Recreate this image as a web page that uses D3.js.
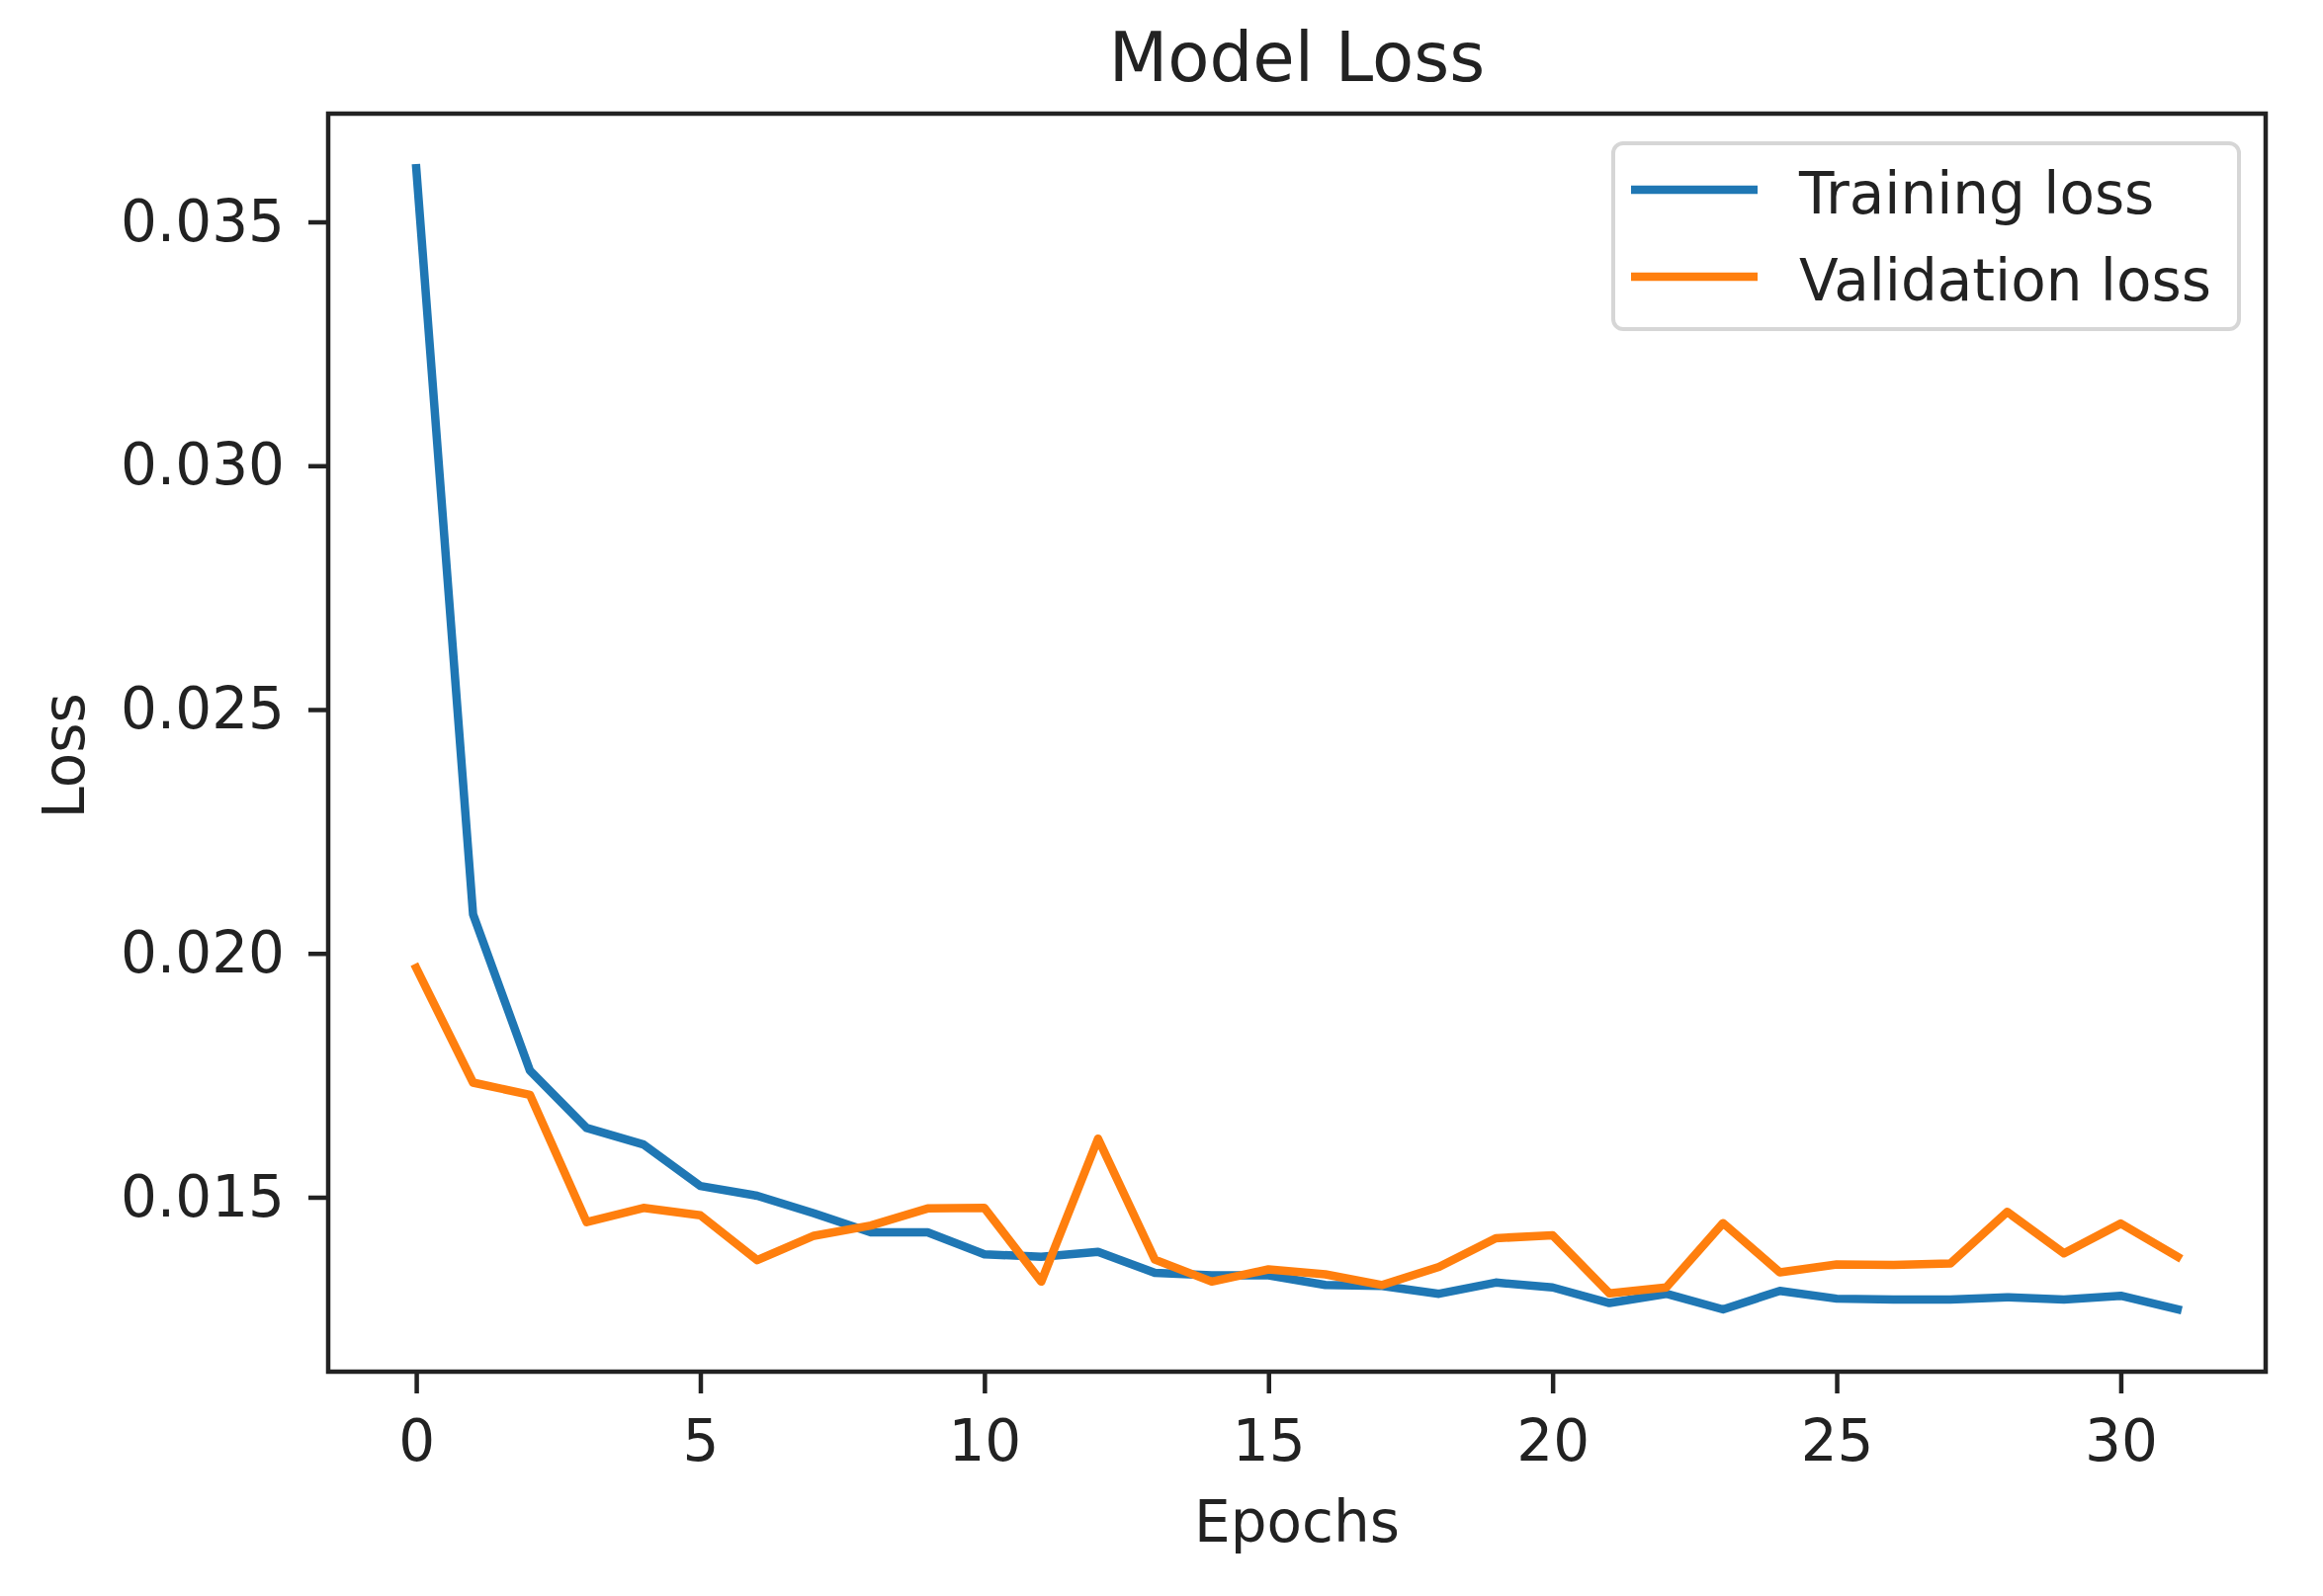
<!DOCTYPE html>
<html>
<head>
<meta charset="utf-8">
<script src="https://cdn.jsdelivr.net/npm/d3@7"></script>
<style>
    body { margin: 0; background: #fff; }
    text { font-family: "DejaVu Sans", sans-serif; fill: #222; }
</style>
</head>
<body>
<div id="chart"></div>
<script>
"use strict";

// values
var epochs = d3.range(0, 32);
var training_loss = [
    0.0361, 0.0208, 0.0176, 0.01642, 0.01608, 0.01523, 0.01503, 0.01467,
    0.01428, 0.01428, 0.01383, 0.01378, 0.01388, 0.01345, 0.0134, 0.0134,
    0.0132, 0.01318, 0.01302, 0.01325, 0.01315, 0.01283, 0.01302, 0.0127,
    0.01308, 0.01292, 0.0129, 0.0129, 0.01295, 0.0129, 0.01298, 0.0127
];
var validation_loss = [
    0.0197, 0.01735, 0.0171, 0.01449, 0.01478, 0.01463, 0.01371, 0.01421,
    0.01442, 0.01477, 0.01478, 0.01327, 0.0162, 0.01372, 0.01327, 0.01352,
    0.01342, 0.0132, 0.01357, 0.01416, 0.01422, 0.01303, 0.01315, 0.01447,
    0.01346, 0.01362, 0.01361, 0.01364, 0.0147, 0.01385, 0.01446, 0.01378
];
var x_ticks = [0, 5, 10, 15, 20, 25, 30];
var y_ticks = [0.015, 0.020, 0.025, 0.030, 0.035];
var series_names = ["Training loss", "Validation loss"];
var series_colors = ["#1f77b4", "#ff7f0e"];

var width = 2350;
var height = 1615;
var plot = { left: 332, right: 2292, top: 115, bottom: 1388 };

var svg = d3.select("#chart")
    .append("svg")
    .attr("width", width)
    .attr("height", height);

var x = d3.scaleLinear()
    .domain([-1.55, 32.55])
    .range([plot.left, plot.right]);

var y = d3.scaleLinear()
    .domain([0.011423, 0.037219])
    .range([plot.bottom, plot.top]);

// axes
var x_axis = svg.append("g")
    .attr("transform", "translate(0," + plot.bottom + ")")
    .call(d3.axisBottom(x)
        .tickValues(x_ticks)
        .tickFormat(d3.format("d"))
        .tickSize(22)
        .tickSizeOuter(0)
        .tickPadding(27));

var y_axis = svg.append("g")
    .attr("transform", "translate(" + plot.left + ",0)")
    .call(d3.axisLeft(y)
        .tickValues(y_ticks)
        .tickFormat(d3.format(".3f"))
        .tickSize(20)
        .tickSizeOuter(0)
        .tickPadding(24));

svg.selectAll(".domain").remove();
svg.selectAll(".tick line")
    .attr("stroke", "#222")
    .attr("stroke-width", 4.5);
svg.selectAll(".tick text")
    .style("font-size", "58px")
    .attr("fill", "#222");

// lines
var line = function(values) {
    return d3.line()
        .x(function(d, i) { return x(epochs[i]); })
        .y(function(d) { return y(d); })(values);
};

[training_loss, validation_loss].forEach(function(values, i) {
    svg.append("path")
        .attr("d", line(values))
        .attr("fill", "none")
        .attr("stroke", series_colors[i])
        .attr("stroke-width", 8.5)
        .attr("stroke-linejoin", "round")
        .attr("stroke-linecap", "square");
});

// frame
svg.append("rect")
    .attr("x", plot.left)
    .attr("y", plot.top)
    .attr("width", plot.right - plot.left)
    .attr("height", plot.bottom - plot.top)
    .attr("fill", "none")
    .attr("stroke", "#222")
    .attr("stroke-width", 4.5);

// titles
svg.append("text")
    .attr("x", (plot.left + plot.right) / 2)
    .attr("y", 82)
    .attr("text-anchor", "middle")
    .style("font-size", "69px")
    .text("Model Loss");

svg.append("text")
    .attr("x", (plot.left + plot.right) / 2)
    .attr("y", 1560)
    .attr("text-anchor", "middle")
    .style("font-size", "58px")
    .text("Epochs");

svg.append("text")
    .attr("transform", "translate(85,765) rotate(-90)")
    .attr("text-anchor", "middle")
    .style("font-size", "58px")
    .text("Loss");

// legend
var legend = svg.append("g");

legend.append("rect")
    .attr("x", 1632)
    .attr("y", 145)
    .attr("width", 633)
    .attr("height", 188)
    .attr("rx", 10)
    .attr("fill", "#fff")
    .attr("fill-opacity", 0.8)
    .attr("stroke", "#d6d6d6")
    .attr("stroke-width", 4);

series_names.forEach(function(name, i) {
    var row_y = 192 + i * 88;
    legend.append("line")
        .attr("x1", 1650)
        .attr("x2", 1778)
        .attr("y1", row_y)
        .attr("y2", row_y)
        .attr("stroke", series_colors[i])
        .attr("stroke-width", 8.5);
    legend.append("text")
        .attr("x", 1820)
        .attr("y", row_y + 24)
        .style("font-size", "58px")
        .text(name);
});
</script>
</body>
</html>
